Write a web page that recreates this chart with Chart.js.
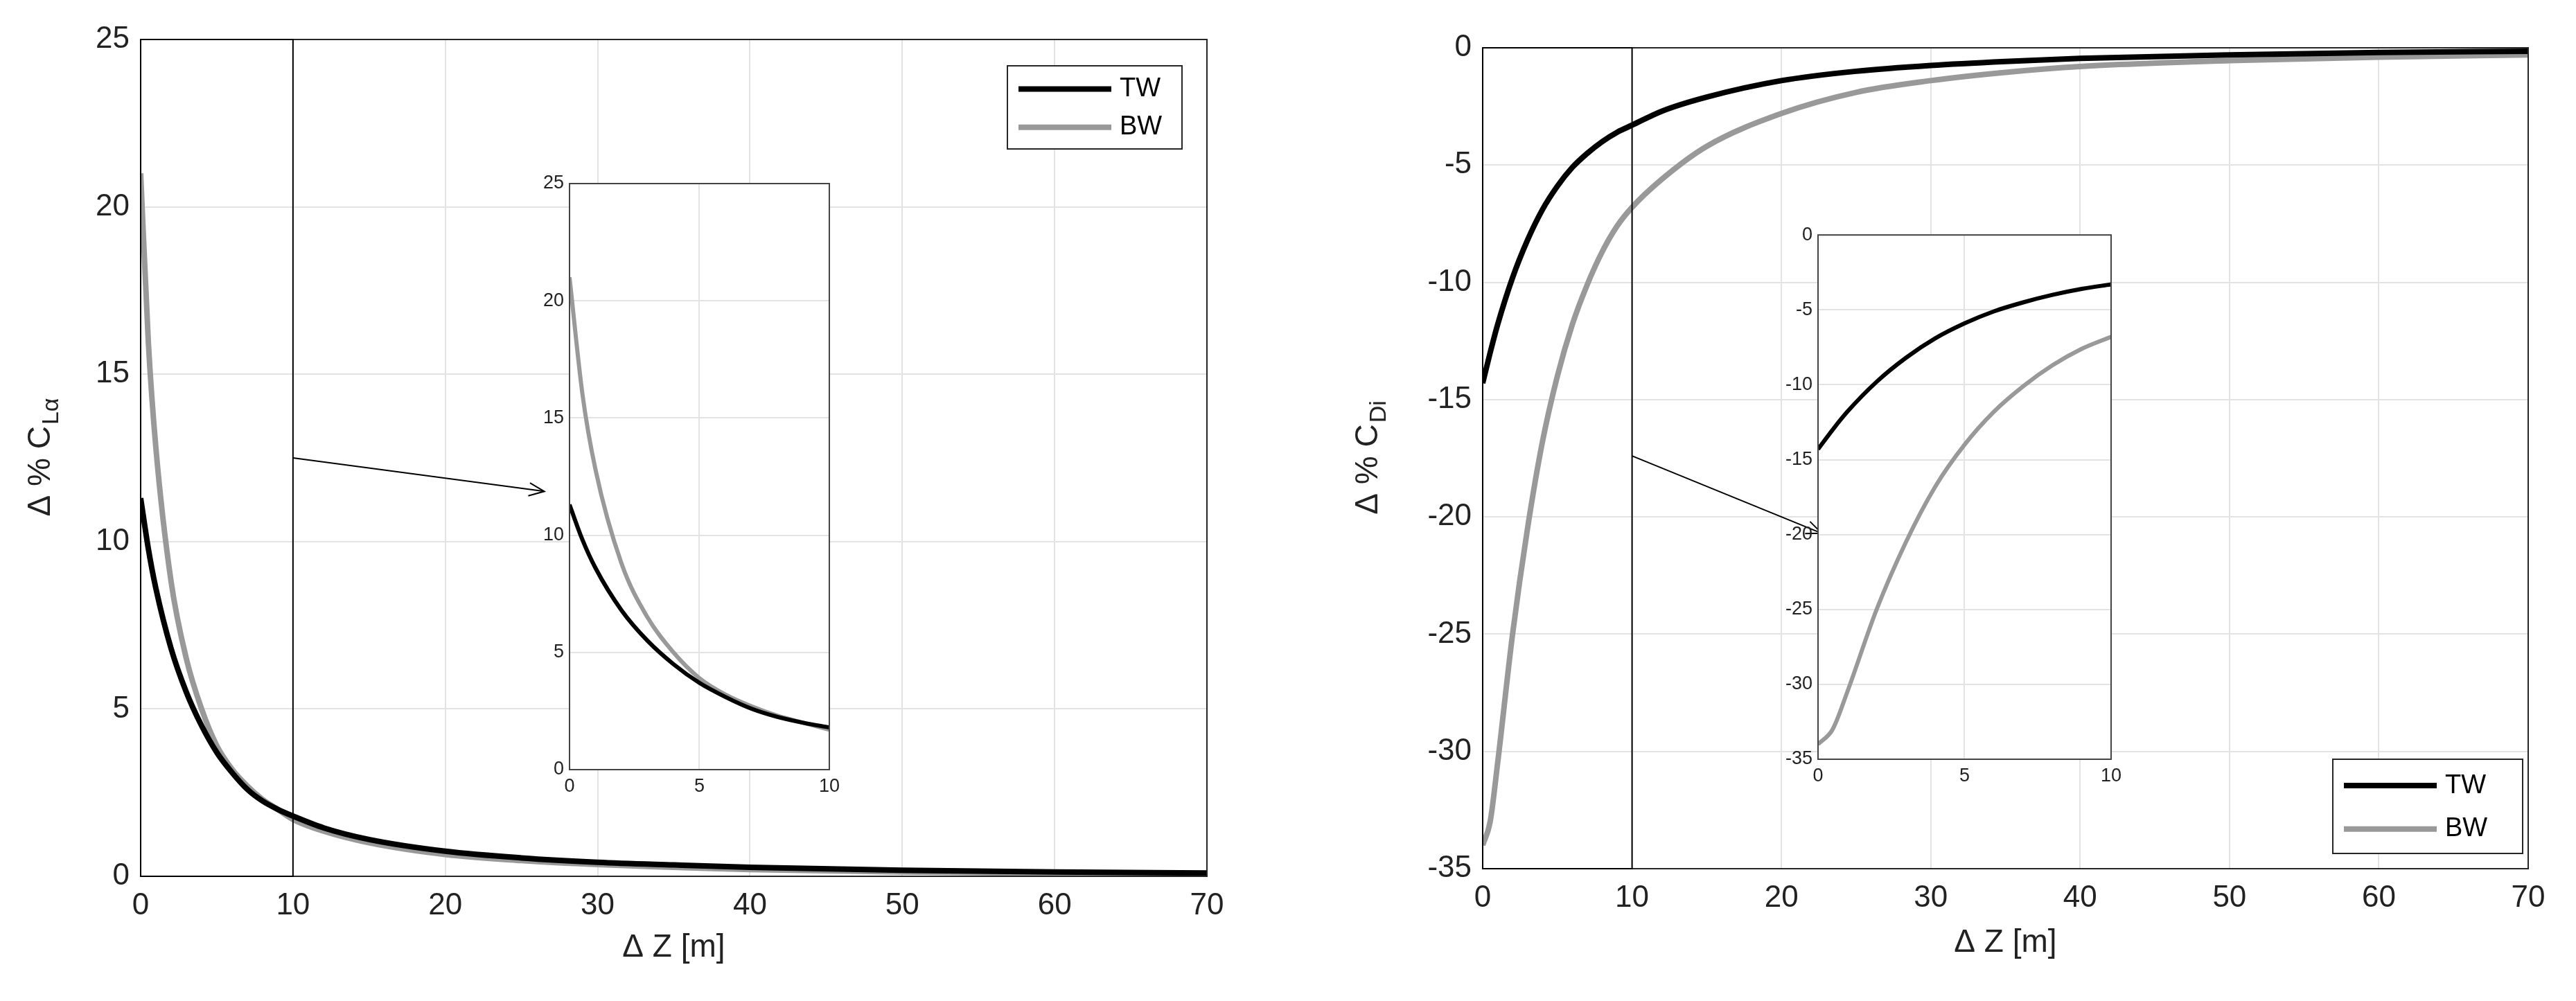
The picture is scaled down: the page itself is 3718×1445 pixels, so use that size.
<!DOCTYPE html>
<html><head><meta charset="utf-8">
<script src="https://cdn.jsdelivr.net/npm/chart.js@4/dist/chart.umd.min.js"></script>
<style>
body{margin:0;background:#fff;width:3718px;height:1445px;position:relative;overflow:hidden;font-family:"Liberation Sans",Arial,sans-serif}
.b{position:absolute}
</style></head><body>
<div class="b" style="left:0;top:0;width:1840px;height:1445px"><canvas id="c1"></canvas></div>
<div class="b" style="left:1880px;top:0;width:1838px;height:1445px"><canvas id="c2"></canvas></div>
<div class="b" style="left:740px;top:240px;width:480px;height:930px"><canvas id="i1"></canvas></div>
<div class="b" style="left:2540px;top:315px;width:530px;height:840px"><canvas id="i2"></canvas></div>
<script>
const zL = [0,0.5,1,2,3,4,5,6,7,8,9,10,12,15,20,25,30,35,40,50,60,70];
const twL = [11.3,9.8,8.6,6.8,5.5,4.5,3.7,3.1,2.6,2.25,2.0,1.8,1.45,1.1,0.75,0.55,0.42,0.34,0.27,0.18,0.13,0.1];
const bwL = [21,16,12.8,8.8,6.5,5.0,3.9,3.2,2.7,2.3,2.0,1.7,1.35,1.0,0.65,0.47,0.35,0.27,0.2,0.13,0.09,0.07];
const zR = [0,0.5,1,2,3,4,5,6,7,8,9,10,12,15,20,25,30,35,40,50,60,70];
const twR = [-14.3,-13.0,-11.8,-9.8,-8.2,-6.9,-5.9,-5.1,-4.5,-4.0,-3.6,-3.3,-2.7,-2.1,-1.4,-1.0,-0.75,-0.58,-0.45,-0.3,-0.2,-0.15];
const bwR = [-34,-33,-30.5,-25,-20.5,-16.8,-14,-11.8,-10.1,-8.7,-7.6,-6.8,-5.6,-4.2,-2.8,-1.9,-1.4,-1.05,-0.8,-0.55,-0.4,-0.3];
const seriesNames = ['TW','BW'];
const colors = ['#000000','#999999'];
const F = '"Liberation Sans", Arial, sans-serif';
Chart.defaults.font.family = F;
Chart.defaults.color = '#222';

function pts(x,y,max){return x.map((v,i)=>({x:v,y:y[i]})).filter(p=>p.x<=max);}

const boxPlugin = {id:'boxp',
 beforeDraw(ch, a, o){
  if (o.white){ const {ctx, chartArea:ca} = ch; ctx.save(); ctx.fillStyle='#fff';
    ctx.fillRect(ca.left, ca.top, ca.right-ca.left, ca.bottom-ca.top); ctx.restore(); }
 },
 afterDraw(ch, a, o){
  const {ctx, chartArea:ca, scales} = ch;
  ctx.save();
  ctx.strokeStyle = o.frame || '#262626'; ctx.lineWidth = 2;
  ctx.strokeRect(ca.left, ca.top, ca.right-ca.left, ca.bottom-ca.top);
  if (o.rect){
    const xs = scales.x, ys = scales.y;
    ctx.strokeStyle = '#000'; ctx.lineWidth = 2;
    ctx.strokeRect(xs.getPixelForValue(0), ca.top, xs.getPixelForValue(o.rect)-xs.getPixelForValue(0), ca.bottom-ca.top);
    const x1 = xs.getPixelForValue(o.arrow[0]), y1 = ys.getPixelForValue(o.arrow[1]);
    const x2 = xs.getPixelForValue(o.arrow[2]), y2 = ys.getPixelForValue(o.arrow[3]);
    ctx.beginPath(); ctx.moveTo(x1,y1); ctx.lineTo(x2,y2); ctx.stroke();
    const ang = Math.atan2(y2-y1, x2-x1), L = 24;
    ctx.beginPath();
    ctx.moveTo(x2-L*Math.cos(ang-0.4), y2-L*Math.sin(ang-0.4)); ctx.lineTo(x2,y2);
    ctx.lineTo(x2-L*Math.cos(ang+0.4), y2-L*Math.sin(ang+0.4)); ctx.stroke();
  }
  if (o.legend){
    const L = o.legend;
    ctx.fillStyle='#fff'; ctx.fillRect(L.x, L.y, L.w, L.h);
    ctx.strokeStyle='#262626'; ctx.lineWidth=2; ctx.strokeRect(L.x, L.y, L.w, L.h);
    ctx.font='38px '+F; ctx.fillStyle='#000'; ctx.textBaseline='middle';
    seriesNames.forEach((n,i)=>{
      const yy = L.y + L.h*(0.28+0.46*i);
      ctx.strokeStyle = colors[i]; ctx.lineWidth = 8;
      ctx.beginPath(); ctx.moveTo(L.x+16, yy); ctx.lineTo(L.x+150, yy); ctx.stroke();
      ctx.fillText(n, L.x+162, yy);
    });
  }
  if (o.ytitle){
    ctx.fillStyle = '#222';
    ctx.translate(o.ytitle.x, (ca.top+ca.bottom)/2);
    ctx.rotate(-Math.PI/2);
    ctx.font = '46px '+F; ctx.textBaseline='alphabetic';
    const main = 'Δ % C', w1 = ctx.measureText(main).width;
    ctx.font = '34px '+F; const w2 = ctx.measureText(o.ytitle.sub).width;
    const x0 = -(w1+w2)/2;
    ctx.font = '46px '+F; ctx.fillText(main, x0, 0);
    ctx.font = '34px '+F; ctx.fillText(o.ytitle.sub, x0+w1+2, 12);
  }
  ctx.restore();
}};

function mk(id, xs, tw, bw, xmax, ymin, ymax, ystep, inset, opts, pad, yw, xh){
  const fs = inset ? 27 : 44;
  return new Chart(document.getElementById(id), {
    type:'line',
    data:{datasets:[
      {label:seriesNames[0], data:pts(xs,tw,xmax), borderColor:colors[0], borderWidth:inset?6:8, pointRadius:0, cubicInterpolationMode:'monotone'},
      {label:seriesNames[1], data:pts(xs,bw,xmax), borderColor:colors[1], borderWidth:inset?6:8, pointRadius:0, cubicInterpolationMode:'monotone'}
    ]},
    options:{
      responsive:true, maintainAspectRatio:false, animation:false, devicePixelRatio:1,
      layout:{padding:pad},
      plugins:{legend:{display:false}, tooltip:{enabled:false}, boxp:opts},
      scales:{
        x:{type:'linear', min:0, max:xmax, ticks:{stepSize:inset?5:10, font:{size:fs}, color:'#222', padding:inset?8:16},
           grid:{color:'#e3e3e3', lineWidth:2, drawTicks:false}, border:{display:false},
           title:{display:!inset, text:'Δ Z [m]', font:{size:46}, color:'#222', padding:{top:6}},
           afterFit(s){s.height = xh;}},
        y:{min:ymin, max:ymax, ticks:{stepSize:ystep, font:{size:fs}, color:'#222', padding:inset?8:16},
           grid:{color:'#e3e3e3', lineWidth:2, drawTicks:false}, border:{display:false},
           afterFit(s){s.width = yw;}}
      }
    },
    plugins:[boxPlugin]
  });
}
mk('c1', zL, twL, bwL, 70, 0, 25, 5, false,
  {rect:10, arrow:[10,12.5,26.5,11.5], ytitle:{x:72, sub:'Lα'}, legend:{x:1454, y:95, w:252, h:120}},
  {left:0, top:57, right:1840-1742, bottom:45}, 203, 135);
mk('c2', zR, twR, bwR, 70, -35, 0, 5, false,
  {rect:10, arrow:[10,-17.4,22.7,-20.7], ytitle:{x:108, sub:'Di'}, legend:{x:3367-1880, y:1096, w:274, h:136}},
  {left:0, top:69, right:1838-1769, bottom:52}, 260, 139);
mk('i1', zL, twL, bwL, 10, 0, 25, 5, true, {frame:'#444', white:true},
  {left:0, top:25, right:16, bottom:0}, 82, 59);
mk('i2', zR, twR, bwR, 10, -35, 0, 5, true, {frame:'#444', white:true},
  {left:0, top:23, right:15, bottom:0}, 84, 59);
</script></body></html>
